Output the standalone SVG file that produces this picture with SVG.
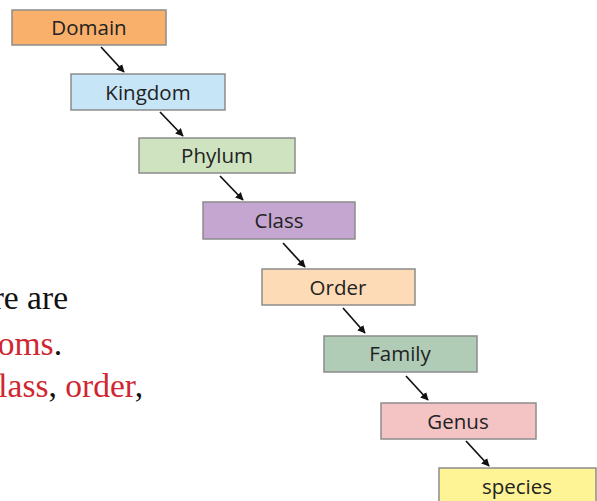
<svg xmlns="http://www.w3.org/2000/svg" width="597" height="501" viewBox="0 0 597 501">
<style>
.box{stroke:#8c8c8c;stroke-width:1.5}
.lbl{font-family:"Open Sans","Liberation Sans",sans-serif;font-size:20.5px;fill:#222;text-anchor:middle}
.con{stroke:#111;stroke-width:1.7;fill:none;marker-end:url(#ah)}
.ser{font-family:"Liberation Serif","Times New Roman",serif;font-size:33.5px;fill:#111;text-anchor:end}
.red{fill:#cf2630}
</style>
<defs>
<marker id="ah" viewBox="0 0 10 10" refX="9" refY="5" markerWidth="8" markerHeight="8" markerUnits="userSpaceOnUse" orient="auto">
<path d="M0,0 L10,5 L0,10 Z" fill="#111"/>
</marker>
</defs>
<rect width="597" height="501" fill="#fff"/>
<g id="side-text">
<text class="ser" x="68" y="309">re are</text>
<text class="ser" x="62" y="355"><tspan class="red">oms</tspan>.</text>
<text class="ser" x="143" y="397"><tspan class="red">lass</tspan>, <tspan class="red">order</tspan>,</text>
</g>
<g id="connectors">
<line class="con" x1="101" y1="47" x2="124" y2="72"/>
<line class="con" x1="160" y1="112" x2="183" y2="136"/>
<line class="con" x1="220" y1="176" x2="243" y2="200"/>
<line class="con" x1="283" y1="243" x2="305" y2="267"/>
<line class="con" x1="343" y1="308" x2="365" y2="333"/>
<line class="con" x1="406" y1="376" x2="428" y2="400"/>
<line class="con" x1="466" y1="441" x2="489" y2="466"/>
</g>
<g id="domain"><rect class="box" x="12" y="10" width="154" height="35" fill="#f9b06a"/><text class="lbl" x="89" y="35">Domain</text></g>
<g id="kingdom"><rect class="box" x="71" y="74" width="154" height="36" fill="#c6e6f8"/><text class="lbl" x="148" y="100">Kingdom</text></g>
<g id="phylum"><rect class="box" x="139" y="138" width="156" height="35" fill="#cfe3c0"/><text class="lbl" x="217" y="163">Phylum</text></g>
<g id="class"><rect class="box" x="203" y="202" width="152" height="37" fill="#c4a6d0"/><text class="lbl" x="279" y="228">Class</text></g>
<g id="order"><rect class="box" x="262" y="269" width="153" height="36" fill="#fddbb7"/><text class="lbl" x="338" y="295">Order</text></g>
<g id="family"><rect class="box" x="324" y="336" width="153" height="36" fill="#b0ccb6"/><text class="lbl" x="400" y="361">Family</text></g>
<g id="genus"><rect class="box" x="381" y="403" width="155" height="36" fill="#f4c3c4"/><text class="lbl" x="458" y="429">Genus</text></g>
<g id="species"><rect class="box" x="439" y="468" width="157" height="40" fill="#fef496"/><text class="lbl" x="517" y="494">species</text></g>
</svg>
